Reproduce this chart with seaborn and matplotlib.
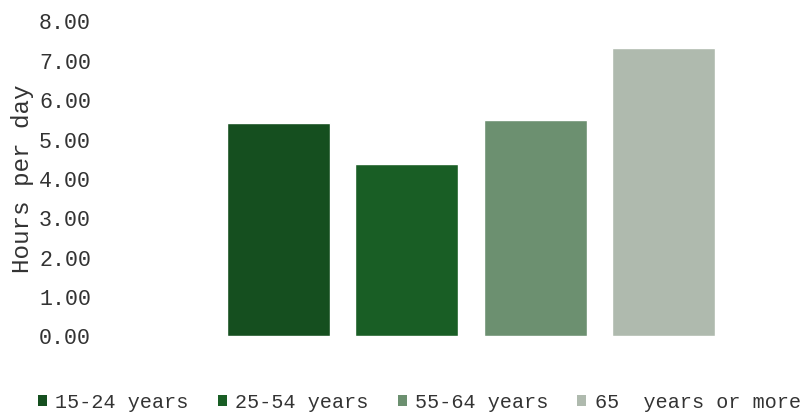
import matplotlib
matplotlib.use("Agg")
import matplotlib.pyplot as plt
import seaborn as sns
import pandas as pd
from matplotlib.patches import Patch
from matplotlib.ticker import FormatStrFormatter

groups = ["15-24 years", "25-54 years", "55-64 years", "65  years or more"]
hours = [5.40, 4.35, 5.48, 7.31]
colors = ["#154f1f", "#195e25", "#6c9070", "#afbaae"]
yticks = [0, 1, 2, 3, 4, 5, 6, 7, 8]

sns.set_theme(style="white")
plt.rcParams["font.family"] = ["Liberation Mono", "DejaVu Sans Mono"]

df = pd.DataFrame({"group": groups, "hours": hours})

W, H = 807, 414
fig = plt.figure(figsize=(W / 100, H / 100), dpi=100)
left_px, right_px = 105, 800
top_px, bottom_px = 21.5, 336.5
ax = fig.add_axes([left_px / W, 1 - bottom_px / H, (right_px - left_px) / W, (bottom_px - top_px) / H])

sns.barplot(data=df, x="group", y="hours", hue="group", palette=colors,
            width=0.8, dodge=False, legend=False, ax=ax, saturation=1)

ppu = 128.5
ax.set_xlim(0 - (278 - left_px) / ppu, 3 + (right_px - 664) / ppu)
ax.set_ylim(0, 8)
ax.set_yticks(yticks)
ax.yaxis.set_major_formatter(FormatStrFormatter("%.2f"))
ax.set_xticks([])
ax.set_xlabel("")
ax.set_ylabel("Hours per day", fontsize=17.5, color="#333333", labelpad=4)
ax.tick_params(axis="y", length=0, labelsize=15.6, labelcolor="#333333", pad=10)
for s in ax.spines.values():
    s.set_visible(False)
ax.grid(False)

handles = [Patch(facecolor=c, edgecolor="none", label=g) for c, g in zip(colors, groups)]
fig.legend(handles=handles, loc="center", bbox_to_anchor=(419.5 / W, 1 - 403 / H), ncol=4,
           frameon=False, fontsize=14.5, handlelength=0.45, handleheight=0.45,
           handletextpad=0.4, columnspacing=1.45, labelcolor="#333333",
           borderpad=0, borderaxespad=0)

fig.savefig("out.png", dpi=100)
